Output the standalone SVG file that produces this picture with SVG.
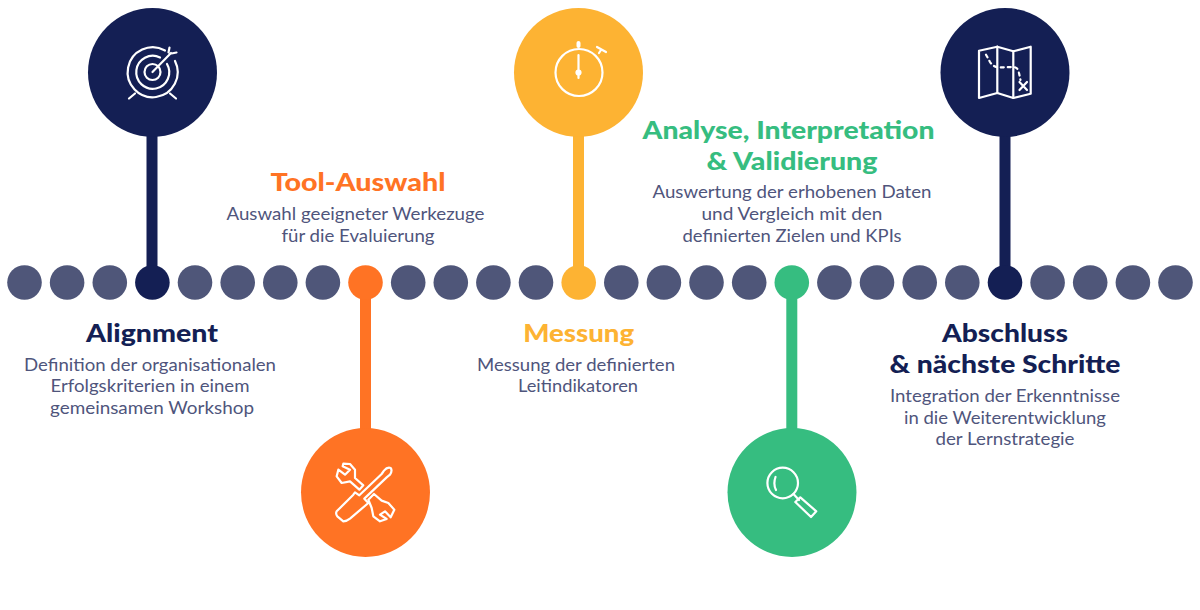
<svg xmlns="http://www.w3.org/2000/svg" width="1200" height="610" viewBox="0 0 1200 610">
<style>
.d{fill:#4f5679}
.t{font-family:Lato,"Liberation Sans",sans-serif;font-weight:900;font-size:25px;text-anchor:middle}
.b{font-family:Lato,"Liberation Sans",sans-serif;font-size:17px;fill:#4f557c;text-anchor:middle}
.i{fill:none;stroke:#fff;stroke-width:2.2;stroke-linecap:round;stroke-linejoin:round}
.n{fill:#141f54}.o{fill:#ff7324}.y{fill:#fdb333}.g{fill:#36bd80}
</style>
<rect width="1200" height="610" fill="#fff"/>
<g id="connectors" stroke-width="11">
<line x1="152" y1="130" x2="152" y2="275" stroke="#141f54"/>
<line x1="365.500" y1="290" x2="365.500" y2="435" stroke="#ff7324"/>
<line x1="578.500" y1="130" x2="578.500" y2="275" stroke="#fdb333"/>
<line x1="791.800" y1="290" x2="791.800" y2="435" stroke="#36bd80"/>
<line x1="1005" y1="130" x2="1005" y2="275" stroke="#141f54"/>
</g>
<g id="timeline">
<circle class="d" cx="24.500" cy="282.500" r="17.300"/><circle class="d" cx="67.100" cy="282.500" r="17.300"/><circle class="d" cx="109.800" cy="282.500" r="17.300"/><circle class="n" cx="152.400" cy="282.500" r="17.300"/>
<circle class="d" cx="195" cy="282.500" r="17.300"/><circle class="d" cx="237.700" cy="282.500" r="17.300"/><circle class="d" cx="280.300" cy="282.500" r="17.300"/><circle class="d" cx="322.900" cy="282.500" r="17.300"/>
<circle class="o" cx="365.500" cy="282.500" r="17.300"/><circle class="d" cx="408.200" cy="282.500" r="17.300"/><circle class="d" cx="450.800" cy="282.500" r="17.300"/><circle class="d" cx="493.400" cy="282.500" r="17.300"/>
<circle class="d" cx="536" cy="282.500" r="17.300"/><circle class="y" cx="578.700" cy="282.500" r="17.300"/><circle class="d" cx="621.300" cy="282.500" r="17.300"/><circle class="d" cx="663.900" cy="282.500" r="17.300"/>
<circle class="d" cx="706.500" cy="282.500" r="17.300"/><circle class="d" cx="749.200" cy="282.500" r="17.300"/><circle class="g" cx="791.800" cy="282.500" r="17.300"/><circle class="d" cx="834.400" cy="282.500" r="17.300"/>
<circle class="d" cx="877" cy="282.500" r="17.300"/><circle class="d" cx="919.700" cy="282.500" r="17.300"/><circle class="d" cx="962.300" cy="282.500" r="17.300"/><circle class="n" cx="1005" cy="282.500" r="17.300"/>
<circle class="d" cx="1047.600" cy="282.500" r="17.300"/><circle class="d" cx="1090.200" cy="282.500" r="17.300"/><circle class="d" cx="1132.900" cy="282.500" r="17.300"/><circle class="d" cx="1175.500" cy="282.500" r="17.300"/>
</g>
<g id="node-alignment">
<circle class="n" cx="152.500" cy="72.500" r="64.500"/>
<g class="i"><path d="M175 61A25 25 0 1 1 165 50.500"/><path d="M167 64A16.500 16.500 0 1 1 160 57.500"/><circle cx="152.500" cy="72" r="8"/><path d="M152.500 72L171 53M169.500 47.500L168.500 52.500M176.500 52.500L171.500 53.500M129 98.500L135 93.500M176 98.500L170 93.500"/></g>
<text class="t" x="152" y="342" fill="#141f54" textLength="132" lengthAdjust="spacingAndGlyphs">Alignment</text>
<text class="b" x="150" y="371" textLength="252" lengthAdjust="spacingAndGlyphs">Definition der organisationalen</text>
<text class="b" x="150" y="392" textLength="199" lengthAdjust="spacingAndGlyphs">Erfolgskriterien in einem</text>
<text class="b" x="152" y="414" textLength="204" lengthAdjust="spacingAndGlyphs">gemeinsamen Workshop</text>
</g>
<g id="node-tool">
<circle class="o" cx="365.500" cy="492.500" r="64.500"/>
<g class="i" transform="translate(330 458) scale(.3333)" style="stroke-width:6.600">
<path d="M162 38Q172 26 182 30Q188 38 180 50L170 58L103 122L115 135L60 182Q50 190 40 190L22 175Q16 167 20 160L70 110L75 103L88 112L155 48Z"/>
<path d="M40 17L60 18L75 35V60L100 82L88 95L60 70L35 75L20 55L25 35L45 50L60 35L38 25Z"/>
<path d="M115 125L132 108L155 128L175 135L193 155L182 178L165 160L150 170L170 183L150 190L130 175L125 150Z"/>
</g>
<text class="t" x="358" y="191" fill="#ff7324" textLength="175" lengthAdjust="spacingAndGlyphs">Tool-Auswahl</text>
<text class="b" x="355.500" y="220" textLength="258" lengthAdjust="spacingAndGlyphs">Auswahl geeigneter Werkezuge</text>
<text class="b" x="358" y="242" textLength="153" lengthAdjust="spacingAndGlyphs">für die Evaluierung</text>
</g>
<g id="node-messung">
<circle class="y" cx="578.500" cy="72.500" r="64.500"/>
<g class="i"><circle cx="579" cy="72.500" r="23.500"/><path d="M578.500 55V78"/><circle cx="578.500" cy="72.500" r="2" fill="#fff"/><path d="M578.500 43V46" style="stroke-width:4"/><path d="M601 50L599 53M597 47L606 52"/></g>
<text class="t" x="578.700" y="342" fill="#fdb333" textLength="111" lengthAdjust="spacingAndGlyphs">Messung</text>
<text class="b" x="576" y="371" textLength="198" lengthAdjust="spacingAndGlyphs">Messung der definierten</text>
<text class="b" x="578" y="392" textLength="120" lengthAdjust="spacingAndGlyphs">Leitindikatoren</text>
</g>
<g id="node-analyse">
<circle class="g" cx="792" cy="492.500" r="64.500"/>
<g class="i"><circle cx="782.700" cy="483" r="15.300"/><path d="M775.500 477Q773 484 776 490M793.500 494L799 500M800.300 497.300L816.300 511.300L811 517L795.300 502Z"/></g>
<text class="t" x="788.500" y="139" fill="#36bd80" textLength="292" lengthAdjust="spacingAndGlyphs">Analyse, Interpretation</text>
<text class="t" x="792" y="170" fill="#36bd80" textLength="171" lengthAdjust="spacingAndGlyphs">&amp; Validierung</text>
<text class="b" x="792" y="198" textLength="279" lengthAdjust="spacingAndGlyphs">Auswertung der erhobenen Daten</text>
<text class="b" x="792" y="220" textLength="181" lengthAdjust="spacingAndGlyphs">und Vergleich mit den</text>
<text class="b" x="792" y="242" textLength="219" lengthAdjust="spacingAndGlyphs">definierten Zielen und KPIs</text>
</g>
<g id="node-abschluss">
<circle class="n" cx="1005" cy="72.500" r="64.500"/>
<g class="i"><path d="M979 50.700L997.300 46.700L1013.300 51.300L1030.700 46.700V93.700L1013.300 98L997.300 93L979 98Z"/><path d="M997.300 46.700V93M1013.300 51.300V98"/><path d="M986 54.700L990 62Q993 67 999 67.500L1013 67Q1018 67 1019 73L1020.500 80" stroke-dasharray="3 4"/><path d="M1019.500 82L1027 90M1027 82L1019.500 90"/></g>
<text class="t" x="1005" y="342" fill="#141f54" textLength="126" lengthAdjust="spacingAndGlyphs">Abschluss</text>
<text class="t" x="1005" y="373" fill="#141f54" textLength="231" lengthAdjust="spacingAndGlyphs">&amp; nächste Schritte</text>
<text class="b" x="1005" y="402" textLength="230" lengthAdjust="spacingAndGlyphs">Integration der Erkenntnisse</text>
<text class="b" x="1005" y="424" textLength="202" lengthAdjust="spacingAndGlyphs">in die Weiterentwicklung</text>
<text class="b" x="1005" y="445" textLength="139" lengthAdjust="spacingAndGlyphs">der Lernstrategie</text>
</g>
</svg>
